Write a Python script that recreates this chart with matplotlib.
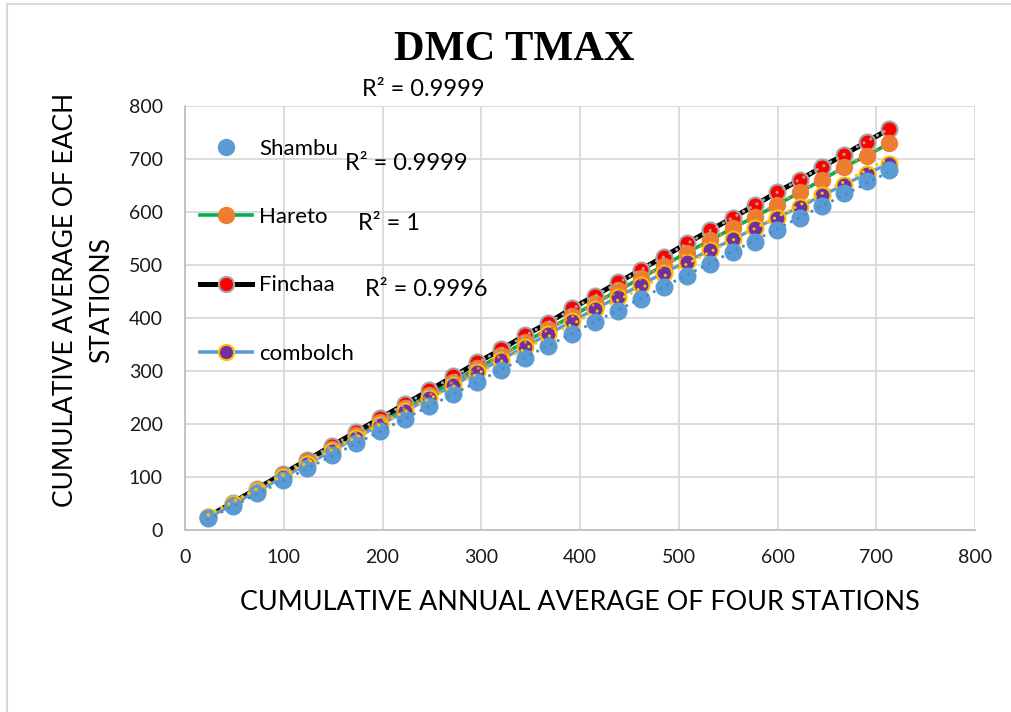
import numpy as np
import matplotlib.pyplot as plt
from matplotlib.lines import Line2D

plt.rcParams['font.family'] = ['Lato', 'DejaVu Sans']

# cumulative annual average of the four stations
cum_avg = [23.6, 48.3, 73.2, 98.9, 123.8, 148.6, 173.2, 197.7, 222.7, 247.4,
           271.8, 296.0, 320.1, 344.3, 368.1, 391.8, 415.4, 438.8, 461.4, 484.7,
           508.2, 531.7, 554.8, 577.4, 599.8, 622.5, 645.1, 667.3, 690.2, 713.4]

# cumulative averages of each station
shambu = [22.4, 45.9, 69.4, 93.6, 117.1, 140.8, 164.0, 186.6, 209.9, 233.1,
          256.0, 278.4, 301.6, 324.0, 346.3, 369.8, 392.1, 413.9, 435.6, 457.6,
          479.9, 501.8, 523.6, 544.3, 566.2, 588.6, 611.8, 636.5, 659.4, 679.5]
hareto = [24.3, 49.7, 75.4, 101.9, 127.5, 153.1, 178.4, 203.6, 229.4, 254.8,
          280.0, 304.9, 329.7, 354.6, 379.1, 403.6, 427.9, 452.0, 475.2, 498.8,
          523.4, 546.6, 569.8, 591.3, 613.6, 637.4, 660.6, 684.6, 706.1, 729.8]
finchaa = [25.3, 51.7, 78.3, 105.6, 132.2, 158.7, 185.0, 210.9, 237.6, 263.7,
           289.7, 316.1, 340.6, 367.4, 391.3, 418.0, 442.4, 467.3, 490.9, 515.7,
           540.7, 565.7, 589.2, 613.2, 637.6, 660.5, 685.1, 708.0, 732.3, 756.9]
combolch = [23.9, 48.4, 73.5, 99.3, 124.2, 149.1, 173.9, 198.6, 223.8, 248.6,
            273.2, 297.6, 321.4, 345.6, 370.0, 393.5, 416.9, 440.1, 462.4, 484.9,
            506.6, 528.1, 548.2, 569.8, 589.6, 609.4, 631.3, 651.2, 672.3, 691.5]

r2_labels = ['R² = 0.9999', 'R² = 0.9999', 'R² = 1', 'R² = 0.9996']
ticks = [0, 100, 200, 300, 400, 500, 600, 700, 800]

W, H = 1011, 712
fig = plt.figure(figsize=(W / 100, H / 100), dpi=100)
ax = fig.add_axes([185 / W, 182 / H, 790 / W, 424 / H])

x = np.array(cum_avg)

# series lines
ax.plot(x, hareto, color='#00B050', lw=2.6, zorder=2)
ax.plot(x, finchaa, color='black', lw=3.6, zorder=2)
ax.plot(x, combolch, color='#5B9BD5', lw=2.4, zorder=2)

# markers
ax.plot(x, finchaa, ls='none', marker='o', ms=11.5, mfc='#FF0000', mec='#A5A5A5', mew=1.5, zorder=3)
ax.plot(x, hareto, ls='none', marker='o', ms=11.5, mfc='#ED7D31', mec='#ED7D31', zorder=4)
ax.plot(x, combolch, ls='none', marker='o', ms=11.5, mfc='#7030A0', mec='#FFC000', mew=1.5, zorder=5)
ax.plot(x, shambu, ls='none', marker='o', ms=12, mfc='#5B9BD5', mec='#5B9BD5', zorder=6)

# linear trendlines
dots = (0, (0.01, 2.4))
for y, c in [(shambu, '#4A8BC8'), (hareto, '#ED7D31'), (finchaa, '#A5A5A5'), (combolch, '#FFC000')]:
    k, b = np.polyfit(x, y, 1)
    ends = np.array([x[0], x[-1]])
    ax.plot(ends, k * ends + b, color=c, lw=2.3, ls=dots, dash_capstyle='round', zorder=7)

ax.set_xlim(0, 800)
ax.set_ylim(0, 800)
ax.set_xticks(ticks)
ax.set_yticks(ticks)
ax.grid(True, color='#D9D9D9', lw=1.3)
ax.set_axisbelow(True)
for side in ['top', 'right']:
    ax.spines[side].set_visible(False)
for side in ['left', 'bottom']:
    ax.spines[side].set_color('#BFBFBF')
    ax.spines[side].set_linewidth(1.3)
ax.tick_params(length=0, labelsize=14, colors='#1a1a1a')
ax.tick_params(axis='y', pad=16)
ax.tick_params(axis='x', pad=14)

# legend
handles = [
    Line2D([], [], ls='none', marker='o', ms=11.5, mfc='#5B9BD5', mec='#5B9BD5'),
    Line2D([], [], color='#00B050', lw=2.6, marker='o', ms=11.5, mfc='#ED7D31', mec='#ED7D31'),
    Line2D([], [], color='black', lw=3.6, marker='o', ms=11, mfc='#FF0000', mec='#A5A5A5', mew=1.5),
    Line2D([], [], color='#5B9BD5', lw=2.6, marker='o', ms=11, mfc='#7030A0', mec='#FFC000', mew=1.5),
]
fig.legend(handles, ['Shambu', 'Hareto', 'Finchaa', 'combolch'],
           loc='upper left', bbox_to_anchor=(200 / W, 1 - 139 / H),
           frameon=False, fontsize=16, handlelength=2.35, handletextpad=0.3,
           labelspacing=2.17, borderpad=0, borderaxespad=0)

# R² of each trendline
r2_pos = [(423, 90), (406, 163), (389, 224), (426, 290)]
for lab, (px, py) in zip(r2_labels, r2_pos):
    fig.text(px / W, 1 - py / H, lab, ha='center', va='center', fontsize=17)

fig.text(514 / W, 1 - 50 / H, 'DMC TMAX', ha='center', va='center',
         family='Liberation Serif', weight='bold', fontsize=30.5)
fig.text(580 / W, 1 - 602 / H, 'CUMULATIVE ANNUAL AVERAGE OF FOUR STATIONS',
         ha='center', va='center', fontsize=19.4)
fig.text(84 / W, 1 - 300 / H, 'CUMULATIVE AVERAGE OF EACH\nSTATIONS',
         ha='center', va='center', rotation=90, multialignment='center',
         linespacing=1.55, fontsize=19)

# chart area border
fig.add_artist(Line2D([7 / W, 7 / W], [0, 1 - 4 / H], color='#D9D9D9', lw=1.5))
fig.add_artist(Line2D([7 / W, 1], [1 - 4 / H, 1 - 4 / H], color='#D9D9D9', lw=1.5))

fig.savefig('out.png', dpi=100)
